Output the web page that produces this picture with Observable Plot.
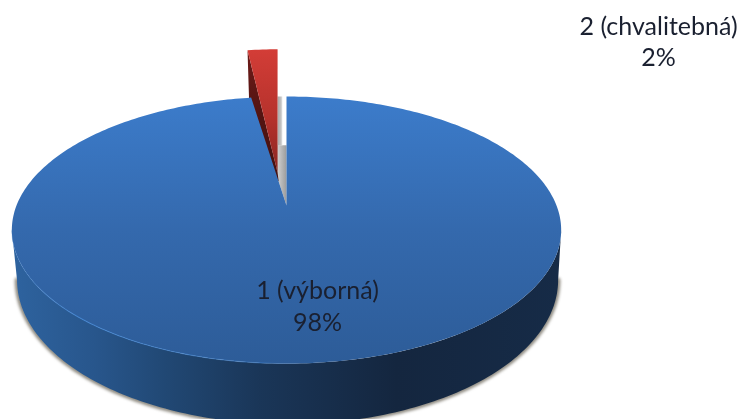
<!DOCTYPE html>
<html>
<head>
<meta charset="utf-8">
<script src="https://cdn.jsdelivr.net/npm/d3@7"></script>
<script src="https://cdn.jsdelivr.net/npm/@observablehq/plot@0.6"></script>
<style>
  html, body { margin: 0; padding: 0; background: #fff; }
  svg { display: block; }
</style>
</head>
<body>
<script>
// Grades and their shares of the pie
const categories = ["1 (výborná)", "2 (chvalitebná)"];
const shares = [98, 2];

// Label anchors in the pie's projected units
const labelX = [0.115, 1.378];
const labelY = [-0.77, 1.28];

// Perspective of the disc: far points shrink towards the centre
const tilt = 0.1835;
const rad = d => d * Math.PI / 180;
const project = (deg, r = 1) => {
  const u = r * Math.sin(rad(deg)), v = r * Math.cos(rad(deg)), w = 1 + tilt * v;
  return {x: u / w, y: v / w};
};

// Slice angles, clockwise from twelve o'clock
const total = d3.sum(shares);
const blueSweep = 360 * shares[0] / total;
const redStart = blueSweep - 360;
const arc = (a, b, step = 1) => {
  const n = Math.ceil(Math.abs(b - a) / step);
  return d3.range(n + 1).map(i => a + (b - a) * i / n);
};

// Small bevel trimmed from the big slice along its open cut
const cutBevel = 1.7;
const blueEnd = blueSweep - cutBevel;

// Visible side of the disc runs between the two silhouette angles
const sideAngle = 90 + Math.asin(tilt) * 180 / Math.PI;
const sideArc = arc(sideAngle, 360 - sideAngle);
const centreY = project(sideAngle).y;
const bottom = p => ({x: p.x * 0.985 + 0.004, y: (p.y - centreY) * 1.08 + centreY - 0.388});

const blueFace = [{x: 0, y: 0}, ...arc(0, blueEnd).map(d => project(d))];
const blueWall = [...sideArc.map(d => project(d)), ...sideArc.map(d => bottom(project(d))).reverse()];
const shadowEdge = sideArc.map(d => bottom(project(d)));
const rim = sideArc.map(d => project(d));

// The small slice is pulled out of the disc and drawn slightly enlarged
const apex = {x: -0.033, y: 0.256};
const pulled = p => ({x: apex.x + p.x * 1.05, y: apex.y + p.y * 1.13});
const redFace = [apex, ...arc(redStart, 0).map(d => pulled(project(d)))];
const corner = pulled(project(redStart));
const redWall = [
  corner,
  apex,
  {x: apex.x + 0.004, y: apex.y - 0.07},
  {x: corner.x + 0.012, y: corner.y - 0.8}
];

// Shaded inside of the gap left by the pulled slice
const gapTop = project(0).y;
const gapMid = project(0, 0.51).y;
const gapLower = [
  {x: 0, y: 0},
  {x: 0, y: gapMid},
  {x: apex.x, y: gapMid},
  project(blueEnd, 0.51)
];
const gapStrip = [
  {x: apex.x, y: gapTop},
  {x: -0.015, y: gapTop},
  {x: -0.015, y: gapMid},
  {x: apex.x, y: gapMid}
];

const labels = categories.map((c, i) => ({text: `${c}\n${shares[i]}%`, x: labelX[i], y: labelY[i]}));

// Gradient definitions shared by the marks below
const gradient = (id, horizontal, stops) => {
  const g = d3.create("svg:linearGradient").attr("id", id)
    .attr("x1", 0).attr("y1", 0).attr("x2", horizontal ? 1 : 0).attr("y2", horizontal ? 0 : 1);
  for (const [o, c, a = 1] of stops) {
    g.append("stop").attr("offset", o).attr("stop-color", c).attr("stop-opacity", a);
  }
  return g.node();
};
const defs = () => {
  const d = d3.create("svg:defs");
  [
    gradient("faceBlue", false, [[0, "#3c7ccb"], [0.5, "#3469ad"], [1, "#2d5c98"]]),
    gradient("wallBlue", true, [[0, "#2e639f"], [0.15, "#28568c"], [0.28, "#214874"], [0.45, "#1a3658"], [0.7, "#14263f"], [1, "#162b47"]]),
    gradient("rimBlue", true, [[0, "#3f80cf", 0.2], [0.12, "#4286d4", 0.8], [0.45, "#4286d4", 0.45], [0.6, "#3a70b0", 0], [1, "#3a70b0", 0]]),
    gradient("faceRed", false, [[0, "#d33d37"], [0.55, "#b6322c"], [1, "#8a2521"]]),
    gradient("wallRed", false, [[0, "#6e1b18"], [0.5, "#521412"], [1, "#451110"]]),
    gradient("gapLow", true, [[0, "#f2f2f2"], [0.6, "#c9c9c9"], [1, "#9c9c9c"]]),
    gradient("gapHigh", true, [[0, "#a8a8a8"], [0.7, "#c4c4c4"], [1, "#ececec"]])
  ].forEach(g => d.node().append(g));
  return d.node();
};

// Softens a mark's edges by the given radius
const soft = px => (index, scales, values, dims, ctx, next) => {
  const g = next(index, scales, values, dims, ctx);
  g.style.filter = `blur(${px}px)`;
  return g;
};

const shape = (pts, fill, px) => Plot.line(pts, {x: "x", y: "y", fill, stroke: "none", curve: "linear-closed", render: soft(px)});

const chart = Plot.plot({
  width: 742,
  height: 419,
  margin: 0,
  x: {domain: [-286 / 270, 456 / 270], range: [0, 742], axis: null},
  y: {domain: [-214 / 129, 205 / 129], range: [419, 0], axis: null},
  marks: [
    defs,
    Plot.line(shadowEdge, {x: "x", y: "y", stroke: "#8c887e", strokeWidth: 4.5, render: soft(1.6)}),
    shape(blueWall, "url(#wallBlue)", 0.35),
    shape(gapLower, "url(#gapLow)", 0.5),
    shape(gapStrip, "url(#gapHigh)", 0.5),
    shape(redWall, "url(#wallRed)", 0.5),
    shape(redFace, "url(#faceRed)", 0.5),
    shape(blueFace, "url(#faceBlue)", 0.35),
    Plot.line(rim, {x: "x", y: "y", stroke: "url(#rimBlue)", strokeWidth: 1.1, render: soft(0.5)}),
    Plot.text(labels, {
      x: "x", y: "y", text: "text",
      fontFamily: "Lato, 'Open Sans', sans-serif", fontSize: 25, lineHeight: 1.26,
      fill: "#1a2030", textAnchor: "middle", render: soft(0.3)
    })
  ]
});
document.body.append(chart);
</script>
</body>
</html>
